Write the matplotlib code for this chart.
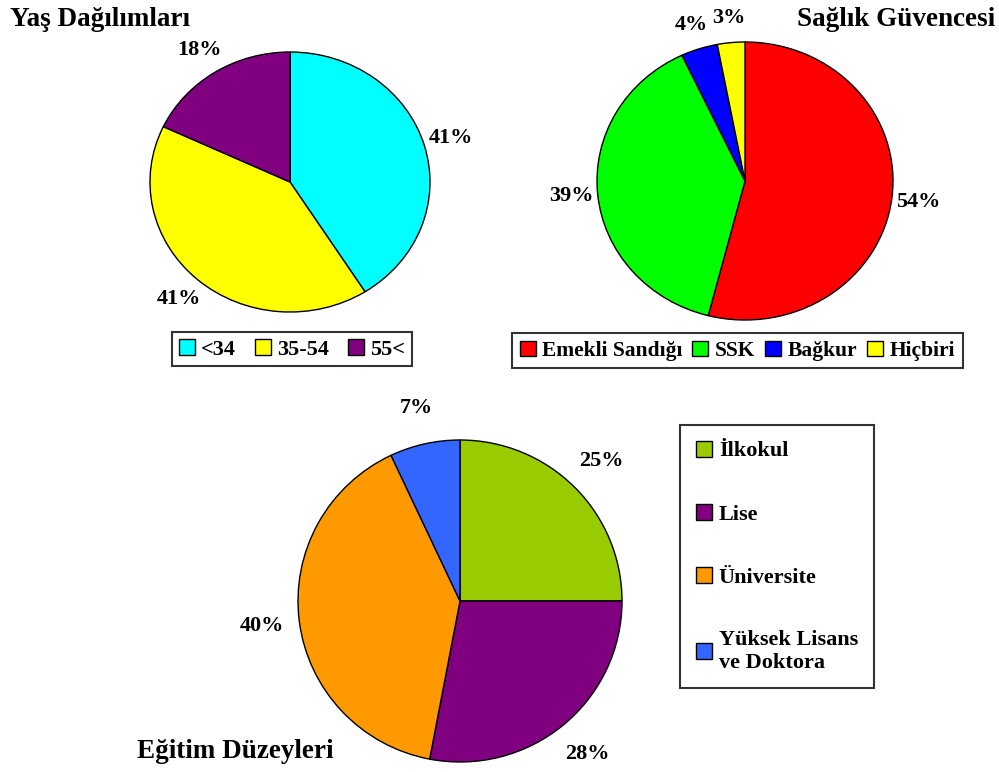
import matplotlib
matplotlib.use("Agg")
import matplotlib.pyplot as plt
from matplotlib.patches import Patch

# ---- data ----
age_labels = ["<34", "35-54", "55<"]
age_values = [41, 41, 18]
age_colors = ["#00FFFF", "#FFFF00", "#800080"]

health_labels = ["Emekli Sandığı", "SSK", "Bağkur", "Hiçbiri"]
health_values = [54, 39, 4, 3]
health_colors = ["#FF0000", "#00FF00", "#0000FF", "#FFFF00"]

edu_labels = ["İlkokul", "Lise", "Üniversite", "Yüksek Lisans\nve Doktora"]
edu_values = [25, 28, 40, 7]
edu_colors = ["#99CC00", "#800080", "#FF9900", "#3366FF"]

titles = ["Yaş Dağılımları", "Sağlık Güvencesi", "Eğitim Düzeyleri"]

FONT = "Liberation Serif"
W, H = 999, 772
fig = plt.figure(figsize=(W / 100, H / 100), dpi=100)


def px_axes(x0, y0, x1, y1):
    return fig.add_axes([x0 / W, 1 - y1 / H, (x1 - x0) / W, (y1 - y0) / H])


def draw_pie(ax, values, colors, dist):
    ax.pie(values, colors=colors, startangle=90, counterclock=False,
           autopct="%.0f%%", pctdistance=dist,
           wedgeprops=dict(edgecolor="black", linewidth=1.0),
           textprops=dict(fontfamily=FONT, fontweight="bold", fontsize=16))
    ax.set_aspect("auto")
    ax.set_xlim(-1, 1)
    ax.set_ylim(-1, 1)
    ax.axis("off")


ax1 = px_axes(150, 52, 430, 312)
draw_pie(ax1, age_values, age_colors, 1.2)
ax2 = px_axes(597, 42, 893, 320)
draw_pie(ax2, health_values, health_colors, 1.18)
ax3 = px_axes(298, 440, 622, 762)
draw_pie(ax3, edu_values, edu_colors, 1.23)


def handles(labels, colors):
    return [Patch(facecolor=c, edgecolor="black", linewidth=1.0, label=l)
            for l, c in zip(labels, colors)]


leg1 = fig.legend(handles=handles(age_labels, age_colors), loc="upper left",
                  bbox_to_anchor=(172 / W, 1 - 332 / H), ncol=3,
                  prop=dict(family=FONT, weight="bold", size=16),
                  frameon=True, fancybox=False, edgecolor="black",
                  handlelength=0.75, handleheight=0.75, handletextpad=0.25,
                  columnspacing=0.85, borderpad=0.3, borderaxespad=0)
leg1.get_frame().set_linewidth(1.5)

leg2 = fig.legend(handles=handles(health_labels, health_colors), loc="upper left",
                  bbox_to_anchor=(512 / W, 1 - 333 / H), ncol=4,
                  prop=dict(family=FONT, weight="bold", size=15.5),
                  frameon=True, fancybox=False, edgecolor="black",
                  handlelength=0.75, handleheight=0.75, handletextpad=0.3,
                  columnspacing=0.45, borderpad=0.35, borderaxespad=0)
leg2.get_frame().set_linewidth(1.5)

leg3 = fig.legend(handles=handles(edu_labels, edu_colors), loc="upper left",
                  bbox_to_anchor=(680 / W, 1 - 425 / H), ncol=1,
                  prop=dict(family=FONT, weight="bold", size=16),
                  frameon=True, fancybox=False, edgecolor="black",
                  handlelength=0.75, handleheight=0.75, handletextpad=0.3,
                  labelspacing=1.9, borderpad=0.7, borderaxespad=0)
leg3.get_frame().set_linewidth(1.5)

tprops = dict(fontfamily=FONT, fontweight="bold", fontsize=19.5)
fig.text(10 / W, 1 - 19 / H, titles[0], ha="left", va="center", **tprops)
fig.text(995 / W, 1 - 19 / H, titles[1], ha="right", va="center", **tprops)
fig.text(137 / W, 1 - 751 / H, titles[2], ha="left", va="center", **tprops)

fig.savefig("out.png", dpi=100, facecolor="white")
